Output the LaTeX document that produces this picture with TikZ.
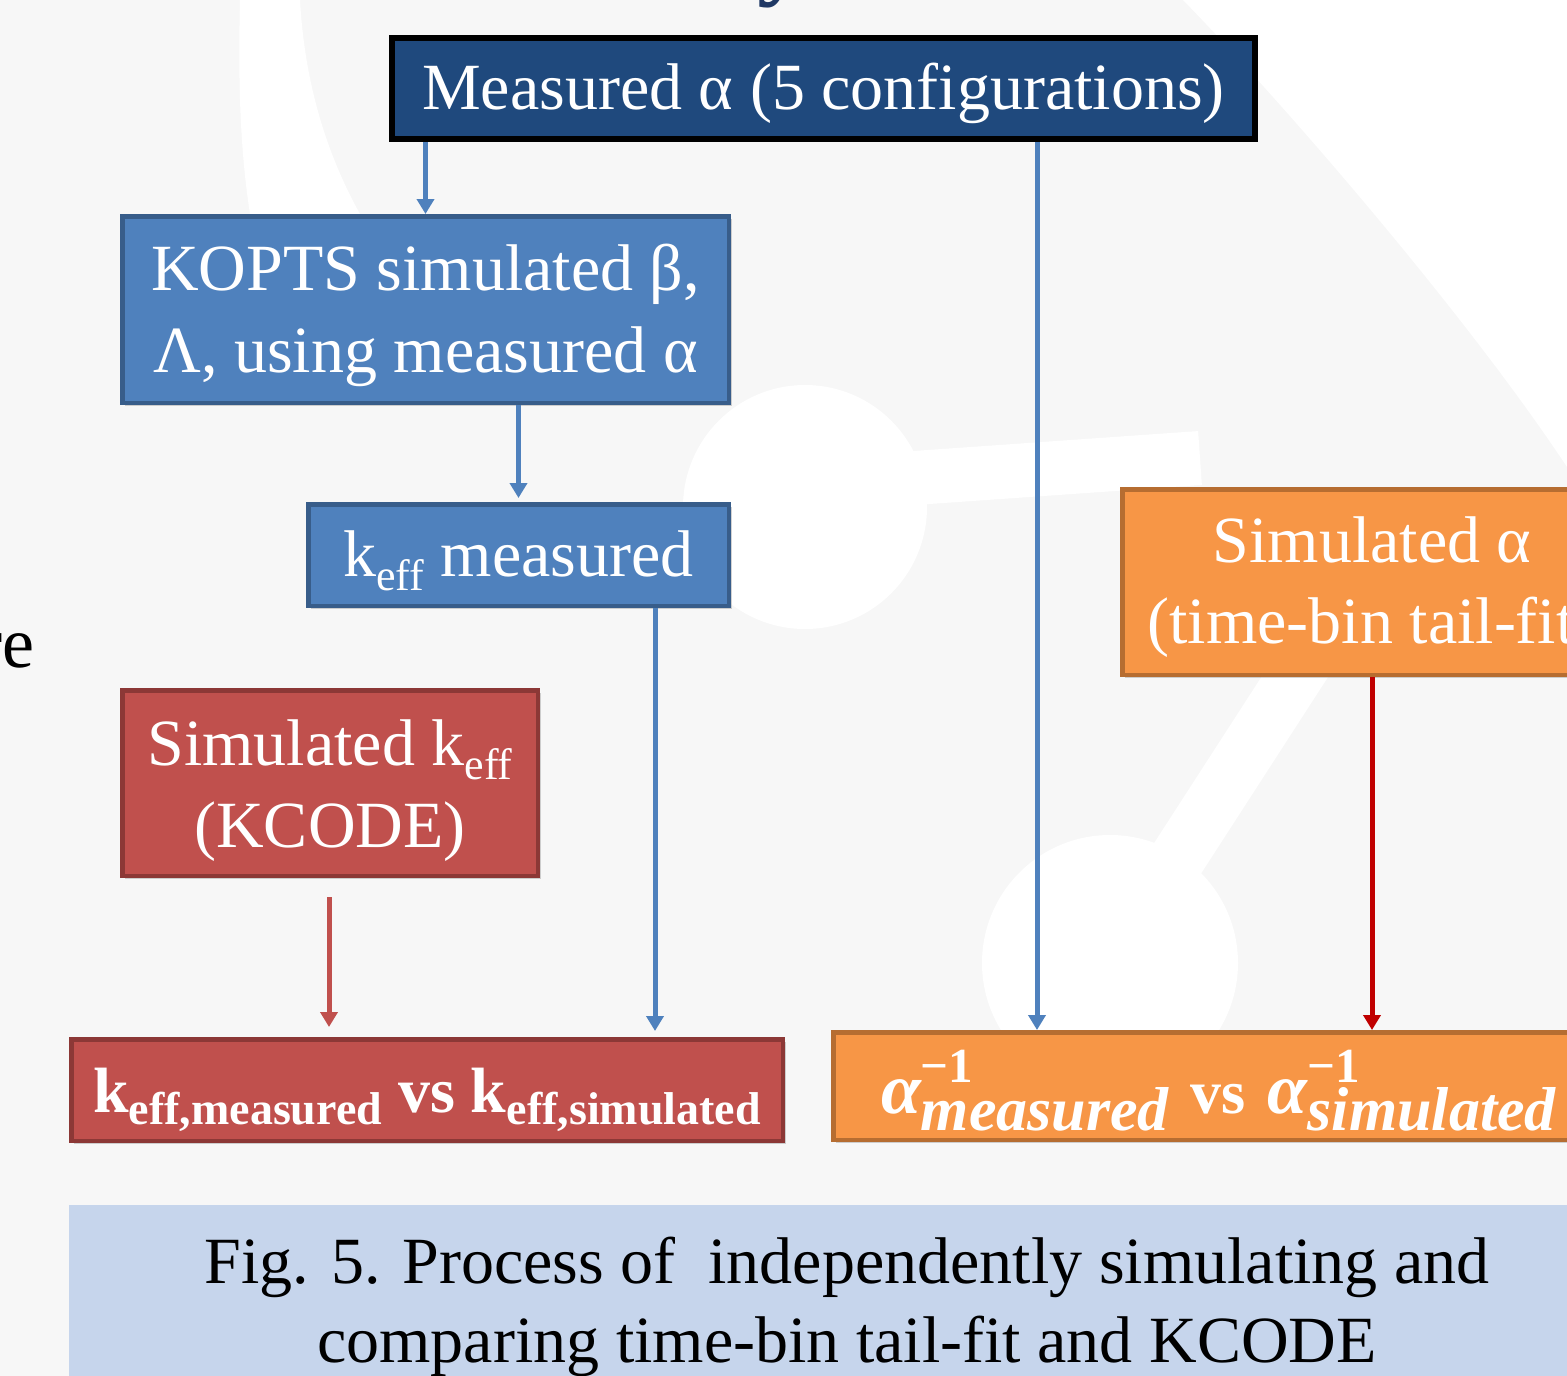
\documentclass[tikz,border=0pt]{standalone}
\usepackage{fontspec}
\setmainfont{Liberation Serif}
\usetikzlibrary{arrows.meta,shadows}
\definecolor{bgc}{HTML}{F7F7F7}
\definecolor{dblue}{HTML}{1F497D}
\definecolor{mblue}{HTML}{4F81BD}
\definecolor{mbluebd}{HTML}{385D8A}
\definecolor{mred}{HTML}{C0504D}
\definecolor{mredbd}{HTML}{8C3836}
\definecolor{orng}{HTML}{F79646}
\definecolor{orngbd}{HTML}{B66D31}
\definecolor{capbg}{HTML}{C6D5EC}
\definecolor{dkred}{HTML}{C00000}
\definecolor{titleblue}{HTML}{1F3864}
\newcommand\bigf{\fontsize{66}{82}\selectfont}
\newcommand\subf{\fontsize{44}{44}\selectfont}
\newcommand\keff{k\raisebox{-14pt}{\subf eff}}
\newcommand\twol[3]{\vtop{\baselineskip=#1\relax\lineskiplimit=-200pt\halign{\hfil##\hfil\cr#2\cr#3\cr}}}
\newcommand\ainv[1]{{\bfseries\itshape\fontsize{72}{72}\selectfont α}\rlap{\raisebox{31pt}{\bfseries\fontsize{49}{49}\selectfont −1}}\raisebox{-17pt}{\bfseries\itshape\fontsize{62}{62}\selectfont #1}}
\newcommand\ksub[1]{k\raisebox{-12pt}{\bfseries\fontsize{46}{46}\selectfont #1}}
\begin{document}
\begin{tikzpicture}[x=1pt,y=-1pt,
  box/.style={rectangle, inner sep=0pt, text=white, font=\bigf,
    drop shadow={opacity=0.35,shadow xshift=3pt,shadow yshift=-3pt}},
  bluebox/.style={box, fill=mblue, draw=mbluebd, line width=4.5pt},
  redbox/.style={box, fill=mred, draw=mredbd, line width=4.5pt},
  orbox/.style={box, fill=orng, draw=orngbd, line width=4.5pt},
  arr/.style={line width=5pt, -{Triangle[width=17pt,length=15pt]}},
  bluearr/.style={arr, draw=mblue},
  redarr/.style={arr, draw=mred},
  dkredarr/.style={arr, draw=dkred}]
\useasboundingbox (0,0) rectangle (1567,1376);
\begin{scope}
\clip (0,0) rectangle (1567,1376);
% background and faint watermark
\fill[bgc] (0,0) rectangle (1567,1376);
\fill[white] (240,0) -- (300,0) .. controls (305,90) and (330,160) .. (360,214) -- (250,214) .. controls (240,150) and (238,80) .. (240,0) -- cycle;
\fill[white] (805,507) circle[radius=122];
\draw[white, line width=54pt] (900,479) -- (1200,458);
\fill[white] (1110,963) circle[radius=128];
\draw[white, line width=56pt] (1170,870) -- (1380,545);
\fill[white] (1183,0) .. controls (1290,110) and (1470,320) .. (1567,467) -- (1567,0) -- cycle;
% cut-off texts
\node[anchor=base, font=\bfseries\fontsize{100}{100}\selectfont, text=titleblue, inner sep=0pt] (ttl) at (782,-14) {y};
\node[anchor=base east, font=\fontsize{72}{72}\selectfont, text=black, inner sep=0pt] (lft) at (35,667) {re};
% boxes
\node[box, fill=dblue, draw=black, line width=6pt, minimum width=863pt, minimum height=101pt,
  text height=41pt, text depth=0pt] (top) at (823.5,88.5) {Measured α (5 configurations)};
\node[bluebox, minimum width=606.5pt, minimum height=186.5pt, text height=43pt, text depth=82pt]
  (kopts) at (425.5,309.5) {\twol{82pt}{KOPTS simulated β,}{Λ, using measured α}};
\node[bluebox, minimum width=420.5pt, minimum height=101.5pt, text height=42pt, text depth=0pt]
  (keffm) at (518.5,555) {\keff{} measured};
\node[redbox, minimum width=415.5pt, minimum height=185.5pt, text height=46pt, text depth=82pt]
  (simk) at (330,783) {\twol{82pt}{Simulated \keff}{(KCODE)}};
\node[redbox, minimum width=711.5pt, minimum height=101.5pt, text height=44pt, text depth=0pt,
  font=\bfseries\fontsize{64}{64}\selectfont]
  (rbot) at (427,1090) {\ksub{eff,measured} vs \ksub{eff,simulated}};
\node[orbox, minimum width=499.5pt, minimum height=185.5pt, text height=41pt, text depth=81pt]
  (salpha) at (1372,582) {\twol{81pt}{Simulated α}{(time-bin tail-fit)}};
\node[orbox, minimum width=811.5pt, minimum height=107.5pt, text height=54pt, text depth=0pt]
  (obot) at (1239,1086) {\makebox[716pt][l]{\ainv{measured}\hspace{22pt}{\bfseries\fontsize{62}{62}\selectfont vs}\hspace{22pt}\ainv{simulated}}};
\node[rectangle, fill=capbg, inner sep=0pt, text=black, font=\fontsize{66}{79}\selectfont,
  minimum width=1556pt, minimum height=195pt, text height=40pt, text depth=79pt]
  (cap) at (847,1302.5) {\twol{79pt}{Fig. 5. Process of \ independently simulating and}{comparing time-bin tail-fit and KCODE}};
% connectors
\draw[bluearr] (top.south -| kopts.north) -- (kopts.north);
\draw[bluearr] (top.south -| 1037,0) -- (obot.north -| 1037,0);
\draw[bluearr, shorten >=4pt] (kopts.south -| keffm.north) -- (keffm.north);
\draw[bluearr, shorten >=6pt] (keffm.south -| 655,0) -- (rbot.north -| 655,0);
\draw[redarr, shorten <=19pt, shorten >=10pt] (simk.south -| 329,0) -- (rbot.north -| 329,0);
\draw[dkredarr] (salpha.south) -- (obot.north -| salpha.south);
\end{scope}
\end{tikzpicture}
\end{document}
